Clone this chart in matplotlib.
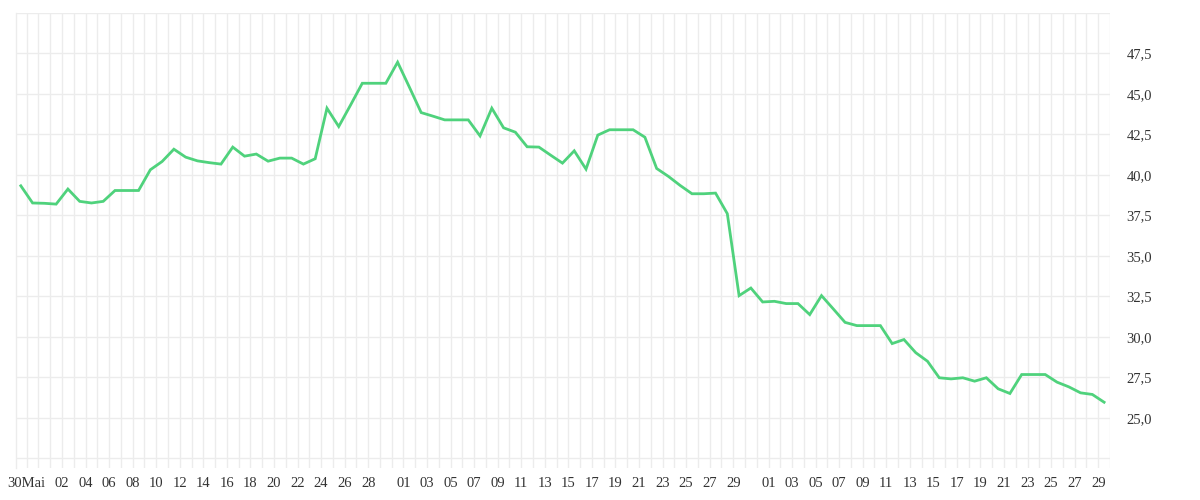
import matplotlib
matplotlib.use("Agg")
import matplotlib.pyplot as plt
import numpy as np

# Daily values (one point per day, from 29 May to 29 Aug, plotted at midday)
values = [
    39.32, 38.26, 38.24, 38.19, 39.12, 38.36, 38.26, 38.36, 39.03, 39.03,
    39.03, 40.31, 40.82, 41.58, 41.09, 40.86, 40.75, 40.66, 41.71, 41.15,
    41.28, 40.84, 41.03, 41.03, 40.66, 40.99, 44.11, 42.98, 44.30, 45.65,
    45.65, 45.65, 46.95, 45.41, 43.84, 43.62, 43.39, 43.39, 43.39, 42.40,
    44.11, 42.90, 42.63, 41.73, 41.71, 41.21, 40.72, 41.48, 40.35, 42.45,
    42.78, 42.78, 42.78, 42.32, 40.39, 39.90, 39.34, 38.83, 38.83, 38.87,
    37.60, 32.54, 33.01, 32.15, 32.19, 32.05, 32.05, 31.37, 32.54, 31.72,
    30.89, 30.69, 30.69, 30.69, 29.58, 29.83, 29.02, 28.49, 27.47, 27.40,
    27.47, 27.26, 27.47, 26.79, 26.50, 27.67, 27.67, 27.67, 27.20, 26.91,
    26.54, 26.44, 25.96,
]

# x axis: day index, 0 = 30 Mai (midnight); data at midday starting 29 Mai
start_offset = -0.5
days = [start_offset + i for i in range(len(values))]

tick_labels = (["30Mai"]
               + ["%02d" % d for d in range(2, 29, 2)]     # Juni
               + ["%02d" % d for d in range(1, 30, 2)]     # Juli
               + ["%02d" % d for d in range(1, 30, 2)])    # August
tick_pos = ([0]
            + [d + 1 for d in range(2, 29, 2)]
            + [d + 31 for d in range(1, 30, 2)]
            + [d + 62 for d in range(1, 30, 2)])

y_grid = [22.5, 25.0, 27.5, 30.0, 32.5, 35.0, 37.5, 40.0, 42.5, 45.0, 47.5, 50.0]
y_labels = ["", "25,0", "27,5", "30,0", "32,5", "35,0", "37,5", "40,0",
            "42,5", "45,0", "47,5", ""]

line_color = "#4fd27c"
grid_color = "#ececec"
text_color = "#333333"

fig = plt.figure(figsize=(12, 5), dpi=100)
ax = fig.add_axes([15.7 / 1200, 1 - 468 / 500, (1110 - 15.7) / 1200, (468 - 12.8) / 500])

ax.plot(days, values, color=line_color, linewidth=2.0, solid_joinstyle="miter", zorder=3)

ax.set_xlim(-0.934, 92)
ax.set_ylim(21.9, 50)

# grid lines
for d in range(0, 93):
    ax.axvline(d, color=grid_color, linewidth=1, zorder=1)
for y in y_grid:
    ax.axhline(y, color=grid_color, linewidth=1, zorder=1)

for s in ["top", "right", "bottom"]:
    ax.spines[s].set_visible(False)
ax.spines["left"].set_color(grid_color)
ax.spines["left"].set_linewidth(1)

ax.set_xticks(tick_pos)
ax.set_xticklabels(tick_labels, fontfamily="Liberation Serif", fontsize=10.5, color=text_color)
ax.set_yticks(y_grid)
ax.set_yticklabels(y_labels, fontfamily="Liberation Serif", fontsize=10.5, color=text_color)
ax.yaxis.tick_right()
ax.tick_params(axis="y", length=0, pad=12)
ax.tick_params(axis="x", length=0, pad=6.5)

fig.savefig("out.png", dpi=100, facecolor="white")
